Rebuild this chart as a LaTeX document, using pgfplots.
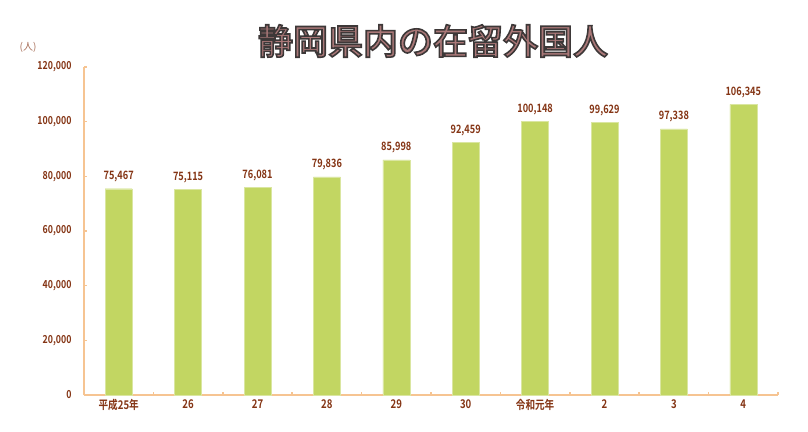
\documentclass[border=0pt]{standalone}
\usepackage{pgfplots}
\pgfplotsset{compat=1.18}
\usepackage{fontspec}
\newfontfamily\lab[FakeStretch=0.8]{Noto Sans CJK JP Bold}
\newfontfamily\ttl{Noto Sans CJK JP Medium}
\newfontfamily\cjk{Noto Sans CJK JP}
\definecolor{barc}{RGB}{194,214,98}
\definecolor{axc}{RGB}{246,196,146}
\definecolor{labc}{RGB}{132,52,20}
\definecolor{ttlc}{RGB}{60,55,55}
\definecolor{ttlo}{RGB}{170,120,120}
\begin{document}
\begin{tikzpicture}[x=1pt,y=1pt]
\path[use as bounding box] (0,0) rectangle (808,431);
\begin{axis}[
  at={(84pt,36pt)}, anchor=south west,
  scale only axis, width=694pt, height=328pt,
  xmin=-0.5, xmax=9.5, ymin=0, ymax=120000,
  ybar, bar width=27pt,
  axis lines=left, axis line style={-, axc, line width=2.2pt},
  xtick={0,...,9},
  xticklabels={平成25年,26,27,28,29,30,令和元年,2,3,4},
  minor xtick={-0.5,0.5,...,9.5},
  major x tick style={draw=none},
  minor x tick style={axc, line width=1.5pt},
  minor tick length=3pt,
  ytick={0,20000,...,120000},
  yticklabels={0,{20,000},{40,000},{60,000},{80,000},{100,000},{120,000}},
  major y tick style={axc, line width=1.5pt},
  major tick length=3pt,
  tick align=inside,
  scaled y ticks=false,
  yticklabel style={font=\lab\fontsize{11}{12}\selectfont, text=labc, xshift=-9pt},
  xticklabel style={font=\lab\fontsize{12}{13}\selectfont, text=labc, yshift=-1pt},
  point meta=explicit symbolic,
  nodes near coords,
  nodes near coords style={font=\lab\fontsize{11.5}{12}\selectfont, text=labc, yshift=3pt},
  clip=false,
]
\addplot[fill=barc, draw=barc!60!white] coordinates {
(0,75467) [75,467] (1,75115) [75,115] (2,76081) [76,081] (3,79836) [79,836] (4,85998) [85,998]
(5,92459) [92,459] (6,100148) [100,148] (7,99629) [99,629] (8,97338) [97,338] (9,106345) [106,345]};
\end{axis}
\node[font=\cjk\fontsize{10}{11}\selectfont, text=labc!70!white] at (28,384) {(人)};
\node[font=\ttl\fontsize{35}{37}\selectfont, text=ttlo] at (433,390) {\special{pdf:literal direct q 2 Tr 1.6 w 0.24 0.22 0.22 RG}静岡県内の在留外国人\special{pdf:literal direct Q}};
\end{tikzpicture}
\end{document}
